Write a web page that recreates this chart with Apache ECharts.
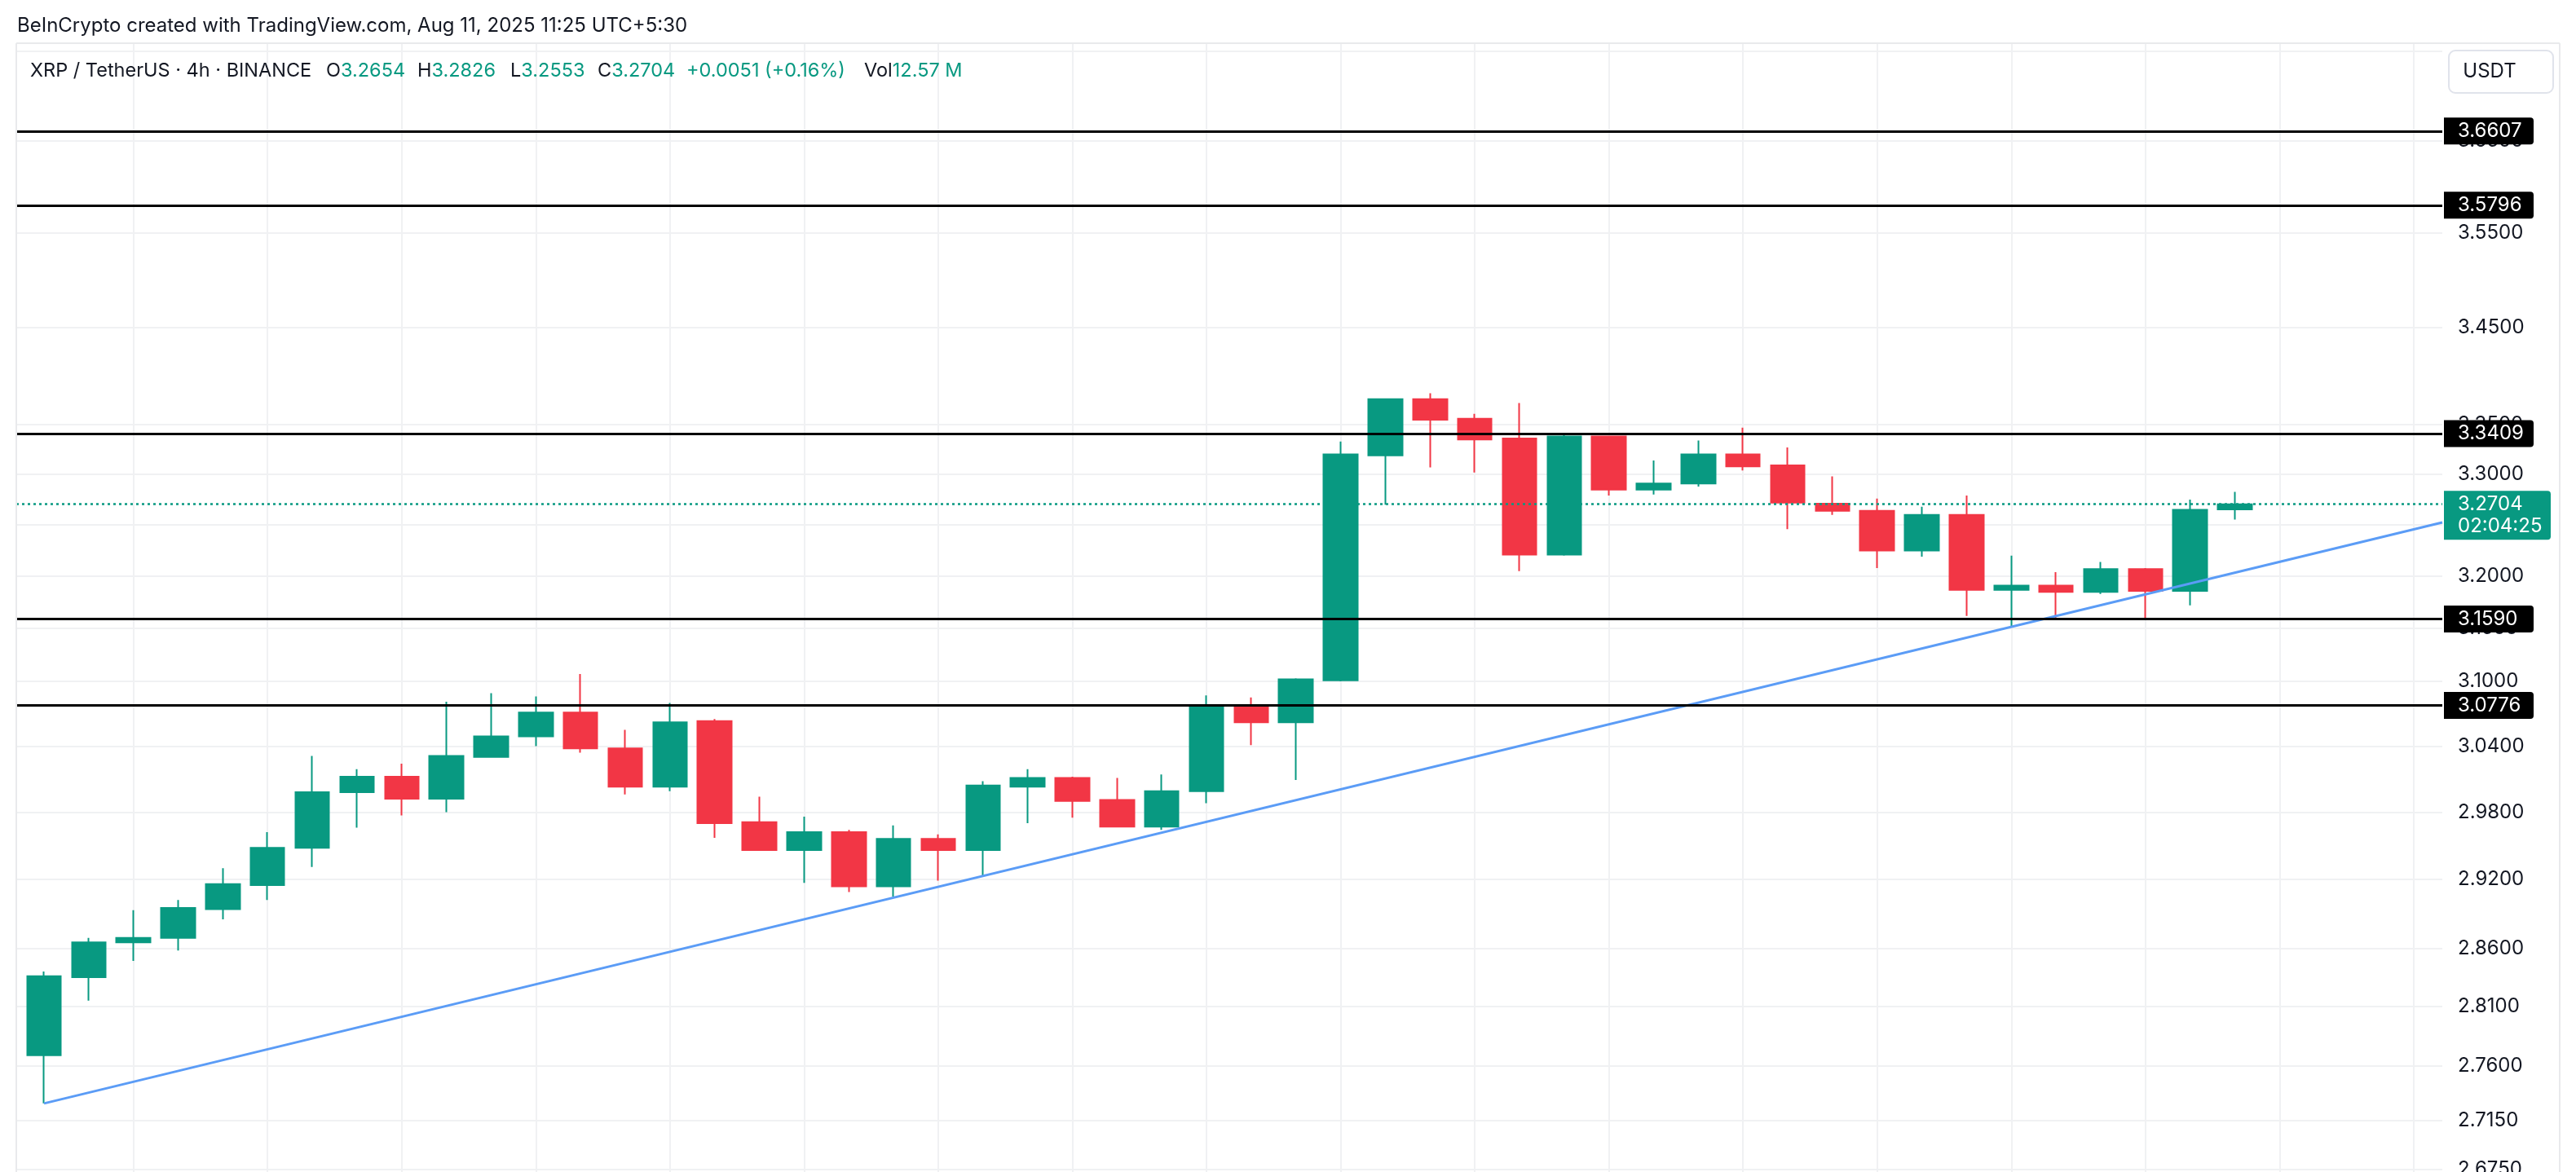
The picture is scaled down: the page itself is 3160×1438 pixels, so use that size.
<!DOCTYPE html>
<html>
<head>
<meta charset="utf-8">
<title>XRP / TetherUS 4h</title>
<script src="https://cdn.jsdelivr.net/npm/echarts@6/dist/echarts.min.js"></script>
<style>
  html, body { margin: 0; padding: 0; background: #fff; }
  #chart { width: 3160px; height: 1438px; }
</style>
</head>
<body>
<div id="chart"></div>
<script>
// 4h candles (oldest first)
const opens = [2.769, 2.835, 2.865, 2.869, 2.894, 2.915, 2.948, 2.998, 3.012, 2.992,
  3.030, 3.049, 3.071, 3.038, 3.003, 3.063, 2.971, 2.946, 2.962, 2.914,
  2.956, 2.946, 3.003, 3.011, 2.991, 2.967, 2.999, 3.076, 3.062, 3.101,
  3.319, 3.376, 3.356, 3.336, 3.221, 3.338, 3.285, 3.291, 3.320, 3.309,
  3.271, 3.264, 3.225, 3.260, 3.187, 3.191, 3.185, 3.207, 3.186, 3.2654];
const closes = [2.836, 2.865, 2.869, 2.895, 2.916, 2.948, 2.998, 3.012, 2.992, 3.031,
  3.049, 3.071, 3.038, 3.003, 3.062, 2.970, 2.946, 2.962, 2.914, 2.956,
  2.946, 3.004, 3.011, 2.990, 2.967, 2.999, 3.076, 3.062, 3.102, 3.320,
  3.376, 3.355, 3.335, 3.221, 3.338, 3.285, 3.291, 3.320, 3.308, 3.272,
  3.264, 3.225, 3.260, 3.187, 3.191, 3.185, 3.207, 3.186, 3.265, 3.2704];
const lows = [2.729, 2.815, 2.849, 2.858, 2.885, 2.902, 2.931, 2.966, 2.977, 2.980,
  3.030, 3.040, 3.034, 2.996, 2.999, 2.957, 2.946, 2.917, 2.909, 2.905,
  2.919, 2.923, 2.970, 2.975, 2.967, 2.964, 2.988, 3.041, 3.009, 3.100,
  3.270, 3.307, 3.302, 3.205, 3.220, 3.279, 3.280, 3.288, 3.304, 3.246,
  3.260, 3.208, 3.219, 3.162, 3.152, 3.160, 3.183, 3.160, 3.172, 3.2553];
const highs = [2.840, 2.869, 2.893, 2.902, 2.930, 2.962, 3.031, 3.019, 3.024, 3.081,
  3.089, 3.086, 3.107, 3.055, 3.080, 3.065, 2.994, 2.976, 2.964, 2.968,
  2.960, 3.008, 3.019, 3.012, 3.011, 3.014, 3.087, 3.085, 3.103, 3.333,
  3.376, 3.382, 3.361, 3.372, 3.340, 3.339, 3.314, 3.334, 3.347, 3.327,
  3.298, 3.276, 3.268, 3.279, 3.220, 3.204, 3.214, 3.208, 3.275, 3.2826];

// horizontal support / resistance levels
const levels = [3.6607, 3.5796, 3.3409, 3.1590, 3.0776];

// price scale (log) ticks
const gridTicks = [3.75, 3.65, 3.55, 3.45, 3.35, 3.30, 3.25, 3.20, 3.15, 3.10,
  3.04, 2.98, 2.92, 2.86, 2.81, 2.76, 2.715, 2.675];
const labelTicks = [3.65, 3.55, 3.45, 3.35, 3.30, 3.25, 3.20, 3.15, 3.10,
  3.04, 2.98, 2.92, 2.86, 2.81, 2.76, 2.715, 2.675];
// bars where the time grid lines fall
const timeGrid = [2, 5, 8, 11, 14, 17, 20, 23, 26, 29, 32, 35, 38, 41, 44, 47, 50, 53];

// trendline: [bar, price]
const trendPoints = [[0, 2.729], [53.64, 3.2525]];

const lastPrice = 3.2704;
const countdown = '02:04:25';

const UP = '#089981';
const DOWN = '#f23645';
const GRID = '#f0f1f3';
const FONT = 'Inter';
const INK = '#131722';

const ln = Math.log;

// pane geometry: the log scale is drawn as a linear axis of ln(price)
const PANE_TOP = 53;
const PANE_BOTTOM = 1438;
const PX_PER_LN = 4062;          // pixels per unit of ln(price)
const REF_Y = 285.5;             // y of 3.55 on the price scale
const yMax = ln(3.55) + (REF_Y - PANE_TOP) / PX_PER_LN;
const yMin = ln(3.55) - (PANE_BOTTOM - REF_Y) / PX_PER_LN;

const chart = echarts.init(document.getElementById('chart'));

const candleData = opens.map((o, i) => [i, ln(o), ln(closes[i]), ln(lows[i]), ln(highs[i])]);

const option = {
  animation: false,
  backgroundColor: '#ffffff',
  grid: {
    left: 20, right: 164, top: PANE_TOP, bottom: 1438 - PANE_BOTTOM,
    containLabel: false,
    outerBoundsMode: 'none'
  },
  xAxis: {
    type: 'value',
    min: -0.62,
    max: 53.64,
    axisLine: { show: false },
    axisLabel: { show: false },
    axisTick: { show: false, customValues: timeGrid },
    splitLine: { show: true, lineStyle: { color: GRID, width: 2 } }
  },
  yAxis: {
    type: 'value',
    position: 'right',
    min: yMin,
    max: yMax,
    axisLine: { show: false },
    axisTick: { show: false, customValues: gridTicks.map(ln) },
    axisLabel: {
      customValues: labelTicks.map(ln),
      formatter: v => Math.exp(v).toFixed(4),
      margin: 19,
      color: INK,
      fontSize: 24,
      fontFamily: FONT
    },
    splitLine: { show: true, lineStyle: { color: GRID, width: 2 } }
  },
  series: [
    {
      type: 'candlestick',
      data: candleData,
      encode: { x: 0, y: [1, 2, 3, 4] },
      barWidth: 42,
      itemStyle: {
        color: UP,
        color0: DOWN,
        borderColor: UP,
        borderColor0: DOWN,
        borderColorDoji: UP,
        borderWidth: 2
      },
      markLine: {
        silent: true,
        precision: 10,
        symbol: ['none', 'none'],
        lineStyle: { color: '#000', width: 3, type: 'solid' },
        label: { show: false },
        data: levels.map(p => ({ yAxis: ln(p) })).concat([{
          yAxis: ln(lastPrice),
          lineStyle: { color: UP, width: 2.5, type: [3, 4] }
        }])
      }
    },
    {
      type: 'line',
      data: trendPoints.map(p => [p[0], ln(p[1])]),
      symbol: 'none',
      silent: true,
      z: 4,
      lineStyle: { color: '#5b9cf6', width: 3 }
    }
  ]
};

chart.setOption(option);

// header, legend, frame and price tags
const toY = p => chart.convertToPixel({ yAxisIndex: 0 }, ln(p));
const frame = { stroke: '#e9eaec', lineWidth: 2 };

function pair(x, k, v) {
  return {
    type: 'text', x: x, y: 87, z: 100,
    style: {
      text: '{k|' + k + '}{v|' + v + '}',
      font: '23.5px ' + FONT,
      verticalAlign: 'middle',
      rich: {
        k: { fill: INK, font: '23.5px ' + FONT },
        v: { fill: UP, font: '23.5px ' + FONT }
      }
    }
  };
}

function tag(p, width, fill, lines) {
  const y = toY(p);
  const out = [{
    type: 'rect', z: 100,
    shape: { x: 2998, y: y - 16.5, width: width, height: lines.length * 27 + 6, r: [0, 4, 4, 0] },
    style: { fill: fill }
  }];
  lines.forEach((t, i) => {
    out.push({
      type: 'text', x: 3015, y: y + i * 27, z: 101,
      style: { text: t, font: '24px ' + FONT, fill: '#fff', verticalAlign: 'middle' }
    });
  });
  return out;
}

let graphics = [
  { type: 'line', z: 50, shape: { x1: 20, y1: 53, x2: 3140, y2: 53 }, style: frame },
  { type: 'line', z: 50, shape: { x1: 20, y1: 53, x2: 20, y2: 1438 }, style: frame },
  { type: 'line', z: 50, shape: { x1: 3140, y1: 53, x2: 3140, y2: 1438 }, style: frame },
  {
    type: 'text', x: 21, y: 32, z: 100,
    style: {
      text: 'BeInCrypto created with TradingView.com, Aug 11, 2025 11:25 UTC+5:30',
      font: '24px ' + FONT, fill: INK, verticalAlign: 'middle'
    }
  },
  {
    type: 'text', x: 37, y: 87, z: 100,
    style: { text: 'XRP / TetherUS · 4h · BINANCE', font: '23.5px ' + FONT, fill: INK, verticalAlign: 'middle' }
  },
  pair(400, 'O', '3.2654'),
  pair(512, 'H', '3.2826'),
  pair(626, 'L', '3.2553'),
  pair(733, 'C', '3.2704'),
  {
    type: 'text', x: 842, y: 87, z: 100,
    style: { text: '+0.0051 (+0.16%)', font: '23.5px ' + FONT, fill: UP, verticalAlign: 'middle' }
  },
  pair(1060, 'Vol', '12.57 M'),
  {
    type: 'rect', z: 100,
    shape: { x: 3004, y: 62, width: 128, height: 52, r: 8 },
    style: { fill: '#fff', stroke: '#e0e3eb', lineWidth: 2 }
  },
  {
    type: 'text', x: 3054, y: 88, z: 101,
    style: { text: 'USDT', font: '24px ' + FONT, fill: INK, align: 'center', verticalAlign: 'middle' }
  }
];

levels.forEach(p => {
  graphics = graphics.concat(tag(p, 110, '#000', [p.toFixed(4)]));
});
graphics = graphics.concat(tag(lastPrice, 131, UP, [lastPrice.toFixed(4), countdown]));

chart.setOption({ graphic: graphics });
</script>
</body>
</html>
